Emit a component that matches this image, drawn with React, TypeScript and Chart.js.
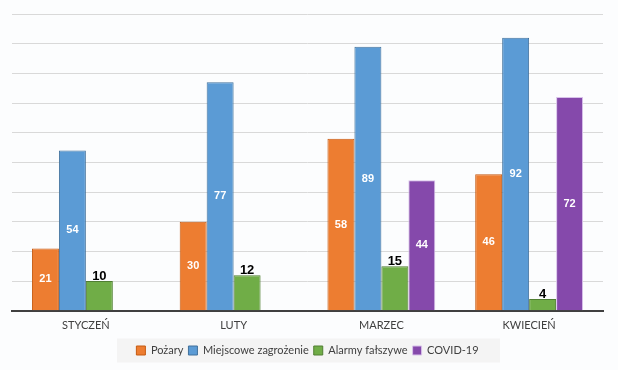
import React, { useEffect, useRef } from "react";
import { Chart, registerables } from "chart.js";

Chart.register(...registerables);

const categories = ["STYCZEŃ", "LUTY", "MARZEC", "KWIECIEŃ"];
const seriesNames = ["Pożary", "Miejscowe zagrożenie", "Alarmy fałszywe", "COVID-19"];
const pozary = [21, 30, 58, 46];
const miejscowe = [54, 77, 89, 92];
const alarmy = [10, 12, 15, 4];
const covid = [null, null, 44, 72];
const yTicks = [0, 10, 20, 30, 40, 50, 60, 70, 80, 90, 100];

const fills = ["#ED7D31", "#5B9BD5", "#70AD47", "#8549AB"];
const borders = ["#C55A11", "#41719C", "#507E32", "#D8C2EA"];

const bgPlugin = {
  id: "bg",
  beforeDraw(chart: any) {
    const { ctx, width, height } = chart;
    ctx.save();
    ctx.fillStyle = "#FCFDFE";
    ctx.fillRect(0, 0, width, height);
    const lg = chart.legend;
    if (lg && lg.legendHitBoxes && lg.legendHitBoxes.length) {
      const hb = lg.legendHitBoxes[0];
      const cy = hb.top + hb.height / 2;
      ctx.fillStyle = "#F4F4F4";
      ctx.fillRect(117, cy - 12, 383, 24);
    }
    ctx.restore();
  },
};

const labelPlugin = {
  id: "valueLabels",
  afterDatasetsDraw(chart: any) {
    const { ctx } = chart;
    ctx.save();
    ctx.textAlign = "center";
    chart.data.datasets.forEach((ds: any, di: number) => {
      const meta = chart.getDatasetMeta(di);
      meta.data.forEach((el: any, i: number) => {
        const v = ds.data[i];
        if (v === null || v === undefined) return;
        if (di === 2) {
          ctx.fillStyle = "#000000";
          ctx.font = "bold 13px 'Liberation Sans', Arial, sans-serif";
          ctx.textBaseline = "bottom";
          ctx.fillText(String(v), el.x, el.y + 2);
        } else {
          ctx.fillStyle = "#FFFFFF";
          ctx.font = "bold 11px 'Liberation Sans', Arial, sans-serif";
          ctx.textBaseline = "middle";
          ctx.fillText(String(v), el.x, (el.y + el.base) / 2);
        }
      });
    });
    ctx.restore();
  },
};

export default function App() {
  const ref = useRef<HTMLCanvasElement>(null);
  useEffect(() => {
    document.body.style.margin = "0";
    const data = [pozary, miejscowe, alarmy, covid];
    const chart = new Chart(ref.current!, {
      type: "bar",
      data: {
        labels: categories,
        datasets: seriesNames.map((name, i) => ({
          label: name,
          data: data[i] as any,
          backgroundColor: fills[i],
          borderColor: borders[i],
          borderWidth: 1,
          categoryPercentage: 0.73,
          barPercentage: 1,
        })),
      },
      options: {
        animation: false,
        responsive: false,
        layout: { padding: { left: 12, right: 15, top: 14, bottom: 4 } },
        plugins: {
          legend: {
            position: "bottom",
            labels: {
              boxWidth: 9,
              boxHeight: 9,
              padding: 5,
              color: "#404040",
              font: { size: 11, family: "Lato, 'Open Sans', sans-serif" },
            },
          },
          tooltip: { enabled: false },
        },
        scales: {
          x: {
            grid: { display: false, drawTicks: false },
            border: { color: "#404040", width: 2 },
            ticks: {
              color: "#404040",
              padding: 8,
              font: { size: 11, family: "Lato, 'Open Sans', sans-serif" },
            },
          },
          y: {
            min: 0,
            max: 100,
            afterBuildTicks: (axis: any) => {
              axis.ticks = yTicks.map((v) => ({ value: v }));
            },
            ticks: { display: false },
            grid: { color: "#D9D9D9", drawTicks: false },
            border: { display: false },
          },
        },
      },
      plugins: [bgPlugin, labelPlugin],
    });
    return () => chart.destroy();
  }, []);
  return (
    <div style={{ width: 618, height: 370 }}>
      <canvas ref={ref} width={618} height={370} />
    </div>
  );
}
